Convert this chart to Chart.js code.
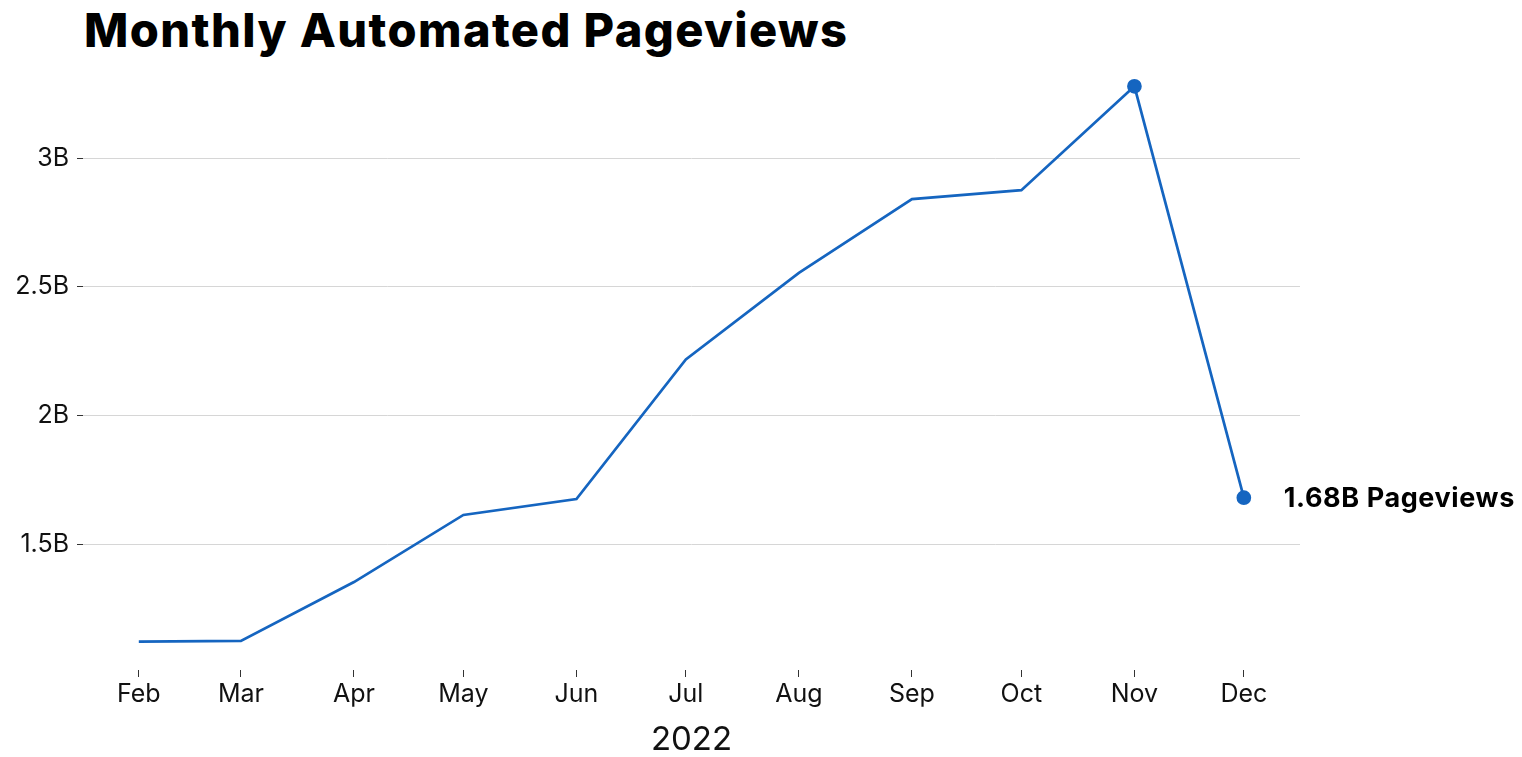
<!DOCTYPE html>
<html>
<head>
<meta charset="utf-8">
<script src="https://cdn.jsdelivr.net/npm/chart.js@4.4.1/dist/chart.umd.min.js"></script>
<style>
  html, body { margin: 0; padding: 0; background: #fff; }
  #wrap { position: relative; width: 1522px; height: 757px; }
  #title {
    position: absolute; left: 84px; top: 6px; margin: 0;
    font-family: "Inter", "Open Sans", sans-serif; font-weight: 800;
    font-size: 47px; line-height: 1; color: #000; letter-spacing: 1.4px;
  }
  canvas { position: absolute; left: 0; top: 0; }
</style>
</head>
<body>
<div id="wrap">
  <h1 id="title">Monthly Automated Pageviews</h1>
  <canvas id="chart" width="1522" height="757"></canvas>
</div>
<script>
// 月ラベルと各月初日（2/1からの日数）
const monthLabels = ['Feb', 'Mar', 'Apr', 'May', 'Jun', 'Jul', 'Aug', 'Sep', 'Oct', 'Nov', 'Dec'];
const monthDays = [0, 28, 59, 89, 120, 150, 181, 212, 242, 273, 303];
// 自動化ページビュー（十億）
const pageviews = [1.12, 1.123, 1.352, 1.613, 1.675, 2.218, 2.554, 2.841, 2.876, 3.28, 1.68];
const yTicks = [1.5, 2, 2.5, 3];
const yearLabel = '2022';

const LINE_COLOR = '#1565c0';
const FONT = '"Inter", "Open Sans", sans-serif';

// 最後の点の横に値ラベルを描く
const endLabel = {
  id: 'endLabel',
  afterDatasetsDraw(chart) {
    const meta = chart.getDatasetMeta(0);
    const last = meta.data[meta.data.length - 1];
    const ctx = chart.ctx;
    ctx.save();
    ctx.font = `700 27px ${FONT}`;
    ctx.letterSpacing = '0.6px';
    ctx.fillStyle = '#000';
    ctx.textAlign = 'left';
    ctx.textBaseline = 'middle';
    ctx.fillText(pageviews[pageviews.length - 1] + 'B Pageviews', last.x + 40, last.y + 1);
    ctx.restore();
  }
};

new Chart(document.getElementById('chart'), {
  type: 'line',
  data: {
    datasets: [{
      data: monthDays.map((d, i) => ({ x: d, y: pageviews[i] })),
      borderColor: LINE_COLOR,
      backgroundColor: LINE_COLOR,
      borderWidth: 2.7,
      tension: 0,
      pointRadius: (ctx) => ctx.dataIndex >= pageviews.length - 2 ? 6 : 0,
      pointHoverRadius: 6
    }]
  },
  options: {
    responsive: false,
    animation: false,
    layout: { padding: { top: 76, right: 222, left: 0, bottom: 0 } },
    plugins: {
      legend: { display: false },
      tooltip: { enabled: false }
    },
    scales: {
      x: {
        type: 'linear',
        min: -15.3,
        max: 318.4,
        afterBuildTicks: (scale) => { scale.ticks = monthDays.map(v => ({ value: v })); },
        afterFit: (scale) => { scale.height = 87; },
        ticks: {
          callback: (value) => monthLabels[monthDays.indexOf(value)],
          font: { family: FONT, size: 25 },
          color: '#111',
          padding: 2,
          maxRotation: 0,
          autoSkip: false
        },
        grid: { drawOnChartArea: false, drawTicks: true, tickLength: 7, tickColor: '#333', tickWidth: 1 },
        border: { display: false },
        title: {
          display: true,
          text: yearLabel,
          font: { family: FONT, size: 33, lineHeight: 1 },
          color: '#111',
          padding: { top: 0, bottom: 0 }
        }
      },
      y: {
        min: 1.01,
        max: 3.32,
        afterBuildTicks: (scale) => { scale.ticks = yTicks.map(v => ({ value: v })); },
        afterFit: (scale) => { scale.width = 83; },
        ticks: {
          callback: (value) => value + 'B',
          font: { family: FONT, size: 25 },
          color: '#111',
          padding: 8
        },
        grid: { color: '#d6d6d6', lineWidth: 1, tickLength: 6, tickColor: '#333' },
        border: { display: false }
      }
    }
  },
  plugins: [endLabel]
});
</script>
</body>
</html>
